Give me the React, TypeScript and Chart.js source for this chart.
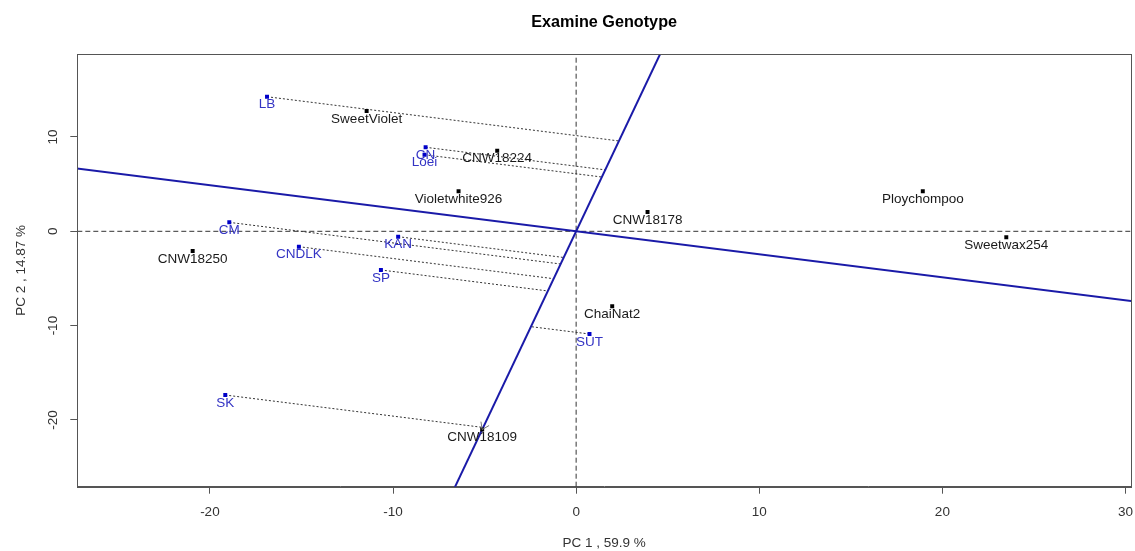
import React, { useEffect, useRef } from "react";
import { Chart, registerables } from "chart.js";

Chart.register(...registerables);

// Genotypes (black)
const genoNames = ["SweetViolet", "CNW18224", "Violetwhite926", "CNW18178", "Ploychompoo", "Sweetwax254", "CNW18250", "ChaiNat2", "CNW18109"];
const genoPC1 = [-11.44, -4.31, -6.42, 3.9, 18.93, 23.49, -20.94, 1.97, -5.13];
const genoPC2 = [12.76, 8.55, 4.24, 2.05, 4.24, -0.64, -2.09, -7.95, -21.02];

// Environments (blue)
const envNames = ["LB", "CN", "Loei", "CM", "CNDLK", "KAN", "SP", "SUT", "SK"];
const envPC1 = [-16.88, -8.22, -8.28, -18.94, -15.14, -9.72, -10.66, 0.73, -19.16];
const envPC2 = [14.27, 8.91, 8.12, 0.95, -1.63, -0.57, -4.1, -10.89, -17.36];

const selectedGenotype = "CNW18109";

const xTicks = [-20, -10, 0, 10, 20, 30];
const yTicks = [-20, -10, 0, 10];
const xRange = [-27.24, 30.3];
const yRange = [-27.08, 18.8];

const chartTitle = "Examine Genotype";
const xTitle = "PC 1 , 59.9 %";
const yTitle = "PC 2 , 14.87 %";

const FONT = '"Liberation Sans", Arial, sans-serif';
const BLUE_LINE = "#1a1aa8";
const BLUE_TEXT = "#3434c4";
const BLUE_PT = "#0000c8";
const FS = 13.5;

export default function App() {
  const ref = useRef<HTMLCanvasElement | null>(null);

  useEffect(() => {
    const canvas = ref.current;
    if (!canvas) return;

    const gi = genoNames.indexOf(selectedGenotype);
    const gx = genoPC1[gi];
    const gy = genoPC2[gi];
    const len = Math.sqrt(gx * gx + gy * gy);
    const ux = gx / len;
    const uy = gy / len;

    const axisLine = [
      { x: -3 * gx, y: -3 * gy },
      { x: 3 * gx, y: 3 * gy },
    ];
    const perpLine = [
      { x: -3 * gy, y: 3 * gx },
      { x: 3 * gy, y: -3 * gx },
    ];

    const projDatasets = envNames.map((n, i) => {
      const d = envPC1[i] * ux + envPC2[i] * uy;
      return {
        type: "line" as const,
        label: "proj-" + n,
        data: [
          { x: envPC1[i], y: envPC2[i] },
          { x: d * ux, y: d * uy },
        ],
        borderColor: "#333",
        borderWidth: 1,
        borderDash: [2, 2],
        pointRadius: 0,
        showLine: true,
        clip: 0,
      };
    });

    const overlay = {
      id: "overlay",
      afterDatasetsDraw(chart: any) {
        const { ctx, chartArea, scales } = chart;
        const xs = scales.x;
        const ys = scales.y;
        ctx.save();
        ctx.strokeStyle = "#555";
        ctx.lineWidth = 1;
        ctx.setLineDash([]);
        ctx.strokeRect(
          Math.round(chartArea.left) + 0.5,
          Math.round(chartArea.top) + 0.5,
          Math.round(chartArea.right - chartArea.left),
          Math.round(chartArea.bottom - chartArea.top)
        );
        const ox = xs.getPixelForValue(0);
        const oy = ys.getPixelForValue(0);
        const tx = xs.getPixelForValue(gx);
        const ty = ys.getPixelForValue(gy);
        const th = Math.atan2(ty - oy, tx - ox);
        ctx.strokeStyle = "#777";
        ctx.beginPath();
        for (const a of [0.6, -0.6]) {
          ctx.moveTo(tx, ty);
          ctx.lineTo(tx - 8 * Math.cos(th + a), ty - 8 * Math.sin(th + a));
        }
        ctx.stroke();
        ctx.font = FS + "px " + FONT;
        ctx.textAlign = "center";
        ctx.textBaseline = "alphabetic";
        ctx.fillStyle = "#1a1a1a";
        genoNames.forEach((n, i) => {
          ctx.fillText(n, xs.getPixelForValue(genoPC1[i]), ys.getPixelForValue(genoPC2[i]) + 11.7);
        });
        ctx.fillStyle = BLUE_TEXT;
        envNames.forEach((n, i) => {
          ctx.fillText(n, xs.getPixelForValue(envPC1[i]), ys.getPixelForValue(envPC2[i]) + 11.7);
        });
        ctx.restore();
      },
    };

    const chart = new Chart(canvas, {
      type: "scatter",
      data: {
        datasets: [
          {
            label: "Genotypes",
            data: genoPC1.map((x, i) => ({ x, y: genoPC2[i] })),
            pointStyle: "rect",
            pointRadius: 2.8,
            pointBackgroundColor: "#000",
            pointBorderWidth: 0,
            showLine: false,
          },
          {
            label: "Environments",
            data: envPC1.map((x, i) => ({ x, y: envPC2[i] })),
            pointStyle: "rect",
            pointRadius: 2.8,
            pointBackgroundColor: BLUE_PT,
            pointBorderWidth: 0,
            showLine: false,
          },
          {
            type: "line",
            label: "axis",
            data: axisLine,
            borderColor: BLUE_LINE,
            borderWidth: 2,
            pointRadius: 0,
            showLine: true,
            clip: 0,
          },
          {
            type: "line",
            label: "perp",
            data: perpLine,
            borderColor: BLUE_LINE,
            borderWidth: 2,
            pointRadius: 0,
            showLine: true,
            clip: 0,
          },
          ...projDatasets,
          {
            type: "line",
            label: "h0",
            data: [
              { x: xRange[0], y: 0 },
              { x: xRange[1], y: 0 },
            ],
            borderColor: "#333",
            borderWidth: 1,
            borderDash: [5, 3],
            pointRadius: 0,
            showLine: true,
            clip: 0,
          },
          {
            type: "line",
            label: "v0",
            data: [
              { x: 0, y: yRange[0] },
              { x: 0, y: yRange[1] },
            ],
            borderColor: "#333",
            borderWidth: 1,
            borderDash: [5, 3],
            pointRadius: 0,
            showLine: true,
            clip: 0,
          },
        ] as any,
      },
      options: {
        animation: false,
        responsive: false,
        devicePixelRatio: 1,
        layout: { padding: { top: 0, right: 3.7, bottom: 0, left: 0 } },
        plugins: {
          legend: { display: false },
          tooltip: { enabled: false },
          title: {
            display: true,
            text: chartTitle,
            fullSize: false,
            color: "#000",
            font: { family: FONT, size: 16.2, weight: "bold", lineHeight: 1.2 },
            padding: { top: 13, bottom: 21.56 },
          },
        },
        scales: {
          x: {
            type: "linear",
            min: xRange[0],
            max: xRange[1],
            afterBuildTicks: (s: any) => {
              s.ticks = xTicks.map((v) => ({ value: v }));
            },
            afterFit: (s: any) => {
              s.height = 64.3;
              s.paddingLeft = 0;
              s.paddingRight = 0;
            },
            grid: { drawOnChartArea: false, drawTicks: true, tickLength: 7, color: "#555" },
            border: { display: true, color: "#555" },
            ticks: {
              font: { family: FONT, size: FS },
              color: "#333",
              padding: 10,
              minRotation: 0,
              maxRotation: 0,
              callback: (v: any) => String(v),
            },
            title: {
              display: true,
              text: xTitle,
              color: "#333",
              font: { family: FONT, size: FS, lineHeight: 1.2 },
              padding: { top: 0, bottom: 0 },
            },
          },
          y: {
            type: "linear",
            min: yRange[0],
            max: yRange[1],
            afterBuildTicks: (s: any) => {
              s.ticks = yTicks.map((v) => ({ value: v }));
            },
            afterFit: (s: any) => {
              s.width = 77.3;
              s.paddingTop = 0;
              s.paddingBottom = 0;
            },
            grid: { drawOnChartArea: false, drawTicks: true, tickLength: 7, color: "#555" },
            border: { display: true, color: "#555" },
            ticks: {
              font: { family: FONT, size: FS },
              color: "#333",
              padding: 7,
              minRotation: 90,
              maxRotation: 90,
              crossAlign: "center",
              callback: (v: any) => String(v),
            },
            title: {
              display: true,
              text: yTitle,
              color: "#333",
              font: { family: FONT, size: FS, lineHeight: 1.2 },
              padding: { top: 13, bottom: 0 },
            },
          },
        },
      } as any,
      plugins: [overlay],
    });

    return () => chart.destroy();
  }, []);

  return (
    <div style={{ position: "absolute", left: 0, top: 0, width: 1135, height: 551, background: "#fff" }}>
      <canvas ref={ref} width={1135} height={551} style={{ display: "block" }} />
    </div>
  );
}
